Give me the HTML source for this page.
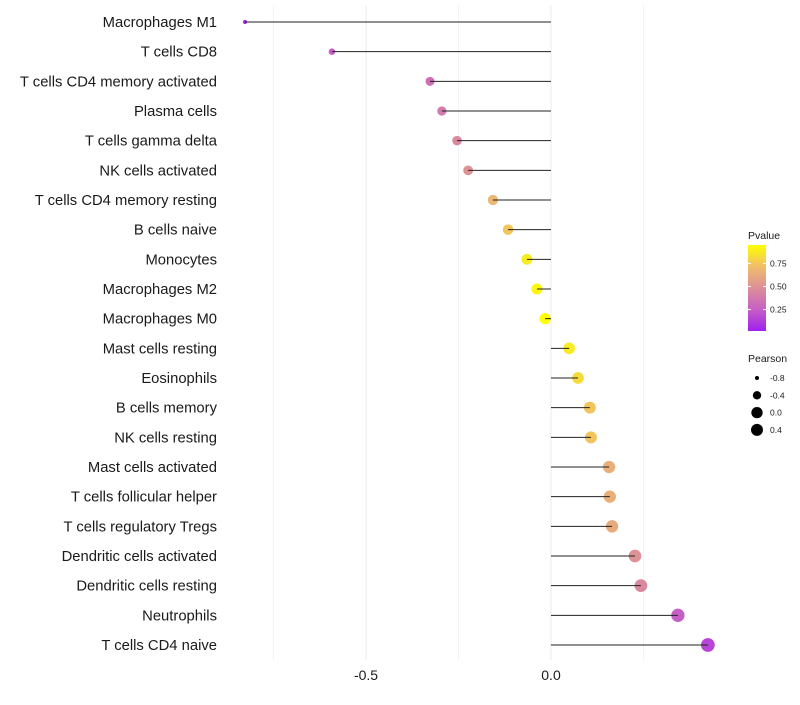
<!DOCTYPE html>
<html><head><meta charset="utf-8"><style>
body{margin:0;background:#fff;font-family:"Liberation Sans",sans-serif}
</style></head><body>
<svg id="chart" width="800" height="700" xmlns="http://www.w3.org/2000/svg" font-family="Liberation Sans, sans-serif"></svg>
<script>
const categories=["Macrophages M1","T cells CD8","T cells CD4 memory activated","Plasma cells","T cells gamma delta","NK cells activated","T cells CD4 memory resting","B cells naive","Monocytes","Macrophages M2","Macrophages M0","Mast cells resting","Eosinophils","B cells memory","NK cells resting","Mast cells activated","T cells follicular helper","T cells regulatory  Tregs ","Dendritic cells activated","Dendritic cells resting","Neutrophils","T cells CD4 naive"];
const pearson=[-0.827,-0.592,-0.327,-0.295,-0.254,-0.224,-0.157,-0.116,-0.065,-0.038,-0.016,0.049,0.073,0.105,0.108,0.157,0.159,0.165,0.227,0.243,0.343,0.424];
const pvalue=[0.02,0.25,0.33,0.38,0.45,0.5,0.68,0.75,0.88,0.92,0.95,0.88,0.82,0.74,0.74,0.64,0.64,0.62,0.5,0.45,0.25,0.15];
const xTicks=[-0.5,0.0];
const xTickLabels=["-0.5","0.0"];
const pTicks=[0.25,0.5,0.75];
const sizeTicks=[-0.8,-0.4,0.0,0.4];
const svg=document.getElementById('chart');
const NS="http://www.w3.org/2000/svg";
function mk(t,a,p){const e=document.createElementNS(NS,t);for(const k in a)e.setAttribute(k,a[k]);(p||svg).appendChild(e);return e;}
const xs=v=>551+v*370;
const ys=i=>22+i*(623/21);
const rs=v=>Math.sqrt(Math.max(4,32+36*v));
const stops=[[0,[160,32,240]],[0.25,[198,95,196]],[0.5,[221,143,152]],[0.75,[240,189,106]],[1,[255,255,0]]];
function col(p){let t=(p-0.017)/(0.95-0.017);t=Math.max(0,Math.min(1,t));for(let i=1;i<stops.length;i++){if(t<=stops[i][0]){const a=stops[i-1],b=stops[i],f=(t-a[0])/(b[0]-a[0]);return 'rgb('+a[1].map((c,j)=>Math.round(c+(b[1][j]-c)*f)).join(',')+')';}}return 'rgb(255,255,0)';}
[-0.75,-0.5,-0.25,0,0.25].forEach(v=>{const g=mk('line',{x1:xs(v),x2:xs(v),y1:5,y2:660,stroke:'#ebebeb','stroke-width':v%0.5===0?1:0.6});

});
categories.forEach((c,i)=>{const y=ys(i);
const t=mk('text',{x:217,y:y+5,'text-anchor':'end','font-size':14.8,fill:'#1a1a1a'});t.textContent=c;

});
categories.forEach((c,i)=>{const y=ys(i);
const d=mk('circle',{cx:xs(pearson[i]),cy:y,r:rs(pearson[i]),fill:col(pvalue[i])});


const l=mk('line',{x1:xs(0),x2:xs(pearson[i]),y1:y,y2:y,stroke:'#222','stroke-width':1});

});
xTicks.forEach((v,i)=>{const t=mk('text',{x:xs(v),y:680,'text-anchor':'middle','font-size':14,fill:'#1a1a1a'});t.textContent=xTickLabels[i];

});
const lt=mk('text',{x:748,y:239,'font-size':10.5,fill:'#1a1a1a'});lt.textContent='Pvalue';


const defs=mk('defs',{});const gr=mk('linearGradient',{id:'pg',x1:0,y1:1,x2:0,y2:0},defs);
stops.forEach(s=>mk('stop',{offset:s[0],'stop-color':'rgb('+s[1].join(',')+')'},gr));
const cb=mk('rect',{x:748,y:245,width:18,height:86,fill:'url(#pg)'});


const py=p=>331-(p-0.017)/(0.95-0.017)*86;
pTicks.forEach(p=>{mk('line',{x1:748,x2:751,y1:py(p),y2:py(p),stroke:'#fff'});mk('line',{x1:763,x2:766,y1:py(p),y2:py(p),stroke:'#fff'});
const t=mk('text',{x:770,y:py(p)+3,'font-size':8.5,fill:'#1a1a1a'});t.textContent=p.toFixed(2);

});
const st=mk('text',{x:748,y:362,'font-size':10.5,fill:'#1a1a1a'});st.textContent='Pearson';


sizeTicks.forEach((v,i)=>{const y=378+i*17.3;
const c=mk('circle',{cx:757,cy:y,r:Math.min(6,rs(v)),fill:'#000'});


const t=mk('text',{x:770,y:y+3,'font-size':8.5,fill:'#1a1a1a'});t.textContent=v.toFixed(1);

});
</script>
</body></html>
